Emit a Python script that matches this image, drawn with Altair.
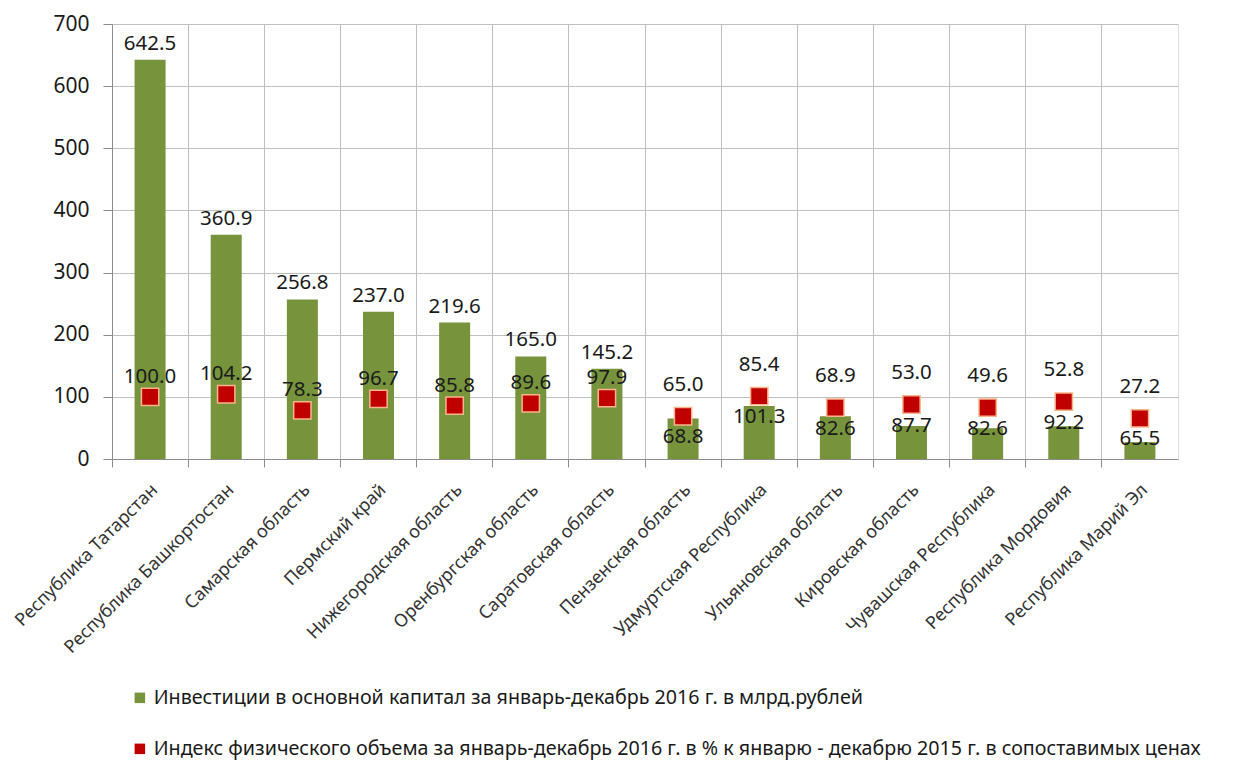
import altair as alt
import pandas as pd

regions = ["Республика Татарстан", "Республика Башкортостан", "Самарская область",
           "Пермский край", "Нижегородская область", "Оренбургская область",
           "Саратовская область", "Пензенская область", "Удмуртская Республика",
           "Ульяновская область", "Кировская область", "Чувашская Республика",
           "Республика Мордовия", "Республика Марий Эл"]
investments = [642.5, 360.9, 256.8, 237.0, 219.6, 165.0, 145.2, 65.0, 85.4, 68.9, 53.0, 49.6, 52.8, 27.2]
index_vals = [100.0, 104.2, 78.3, 96.7, 85.8, 89.6, 97.9, 68.8, 101.3, 82.6, 87.7, 82.6, 92.2, 65.5]
y_ticks = [0, 100, 200, 300, 400, 500, 600, 700]

s1 = "Инвестиции в основной капитал за январь-декабрь 2016 г. в млрд.рублей"
s2 = "Индекс физического объема за январь-декабрь 2016 г. в % к январю - декабрю 2015 г. в сопоставимых ценах"

df = pd.DataFrame({"region": regions, "inv": investments, "idx": index_vals,
                   "order": list(range(len(regions))), "s1": s1, "s2": s2})

FONT = "Noto Sans"
TXT = "#1a1a1a"
color_scale = alt.Scale(domain=[s1, s2], range=["#77933C", "#C00000"])
x = alt.X("region:N", sort=regions, title=None,
          scale=alt.Scale(paddingInner=0, paddingOuter=0),
          axis=alt.Axis(labelAngle=-45, labelAlign="right", labelBaseline="middle",
                        labelFontSize=18, labelColor="#333333", labelFont=FONT,
                        labelLimit=500, labelOverlap=False, labelOffset=5,
                        bandPosition=0, grid=True, gridColor="#BFBFBF",
                        tickColor="#8C8C8C", tickSize=8, domainColor="#8C8C8C",
                        labelPadding=20, labelBound=False))

base = alt.Chart(df)

bars = base.mark_bar(size=31).encode(
    x=x,
    y=alt.Y("inv:Q", title=None,
            scale=alt.Scale(domain=[0, 700], nice=False),
            axis=alt.Axis(values=y_ticks, labelFontSize=21, labelColor=TXT,
                          labelFont=FONT, gridColor="#BFBFBF", tickColor="#8C8C8C",
                          tickSize=9, domainColor="#8C8C8C", labelPadding=14)),
    color=alt.Color("s1:N", scale=color_scale,
                    legend=alt.Legend(title=None, orient="none", legendX=18, legendY=664,
                                      direction="vertical", symbolType="square",
                                      symbolSize=110, labelFontSize=19.7, labelFont=FONT,
                                      labelColor=TXT, labelLimit=2000,
                                      rowPadding=30, symbolStrokeWidth=0)),
)

points = base.mark_point(shape="square", filled=True, size=300, stroke="#F8B58C",
                         strokeWidth=1.5, opacity=1).encode(
    x=alt.X("region:N", sort=regions),
    y=alt.Y("idx:Q"),
    color=alt.Color("s2:N", scale=color_scale),
)

bar_labels = base.transform_calculate(
    pos="max(datum.inv, datum.idx + 25)"
).mark_text(baseline="bottom", dy=-6, fontSize=20.5, font=FONT, color=TXT).encode(
    x=alt.X("region:N", sort=regions),
    y=alt.Y("pos:Q"),
    text=alt.Text("inv:Q", format=".1f"),
)

idx_above = base.transform_filter("datum.order < 7").mark_text(
    baseline="bottom", dy=-10, fontSize=20.5, font=FONT, color=TXT).encode(
    x=alt.X("region:N", sort=regions),
    y=alt.Y("idx:Q"),
    text=alt.Text("idx:Q", format=".1f"),
)

idx_below = base.transform_filter("datum.order >= 7").mark_text(
    baseline="top", dy=11, fontSize=20.5, font=FONT, color=TXT).encode(
    x=alt.X("region:N", sort=regions),
    y=alt.Y("idx:Q"),
    text=alt.Text("idx:Q", format=".1f"),
)

chart = alt.layer(bars, points, bar_labels, idx_above, idx_below).properties(
    width=1066, height=435,
    autosize=alt.AutoSizeParams(type="none"),
    padding={"left": 104, "top": 16, "right": 48, "bottom": 306},
).configure_view(stroke="#BFBFBF").configure(background="white")

chart.save("out.html", embed_options={"renderer": "svg", "actions": False})
